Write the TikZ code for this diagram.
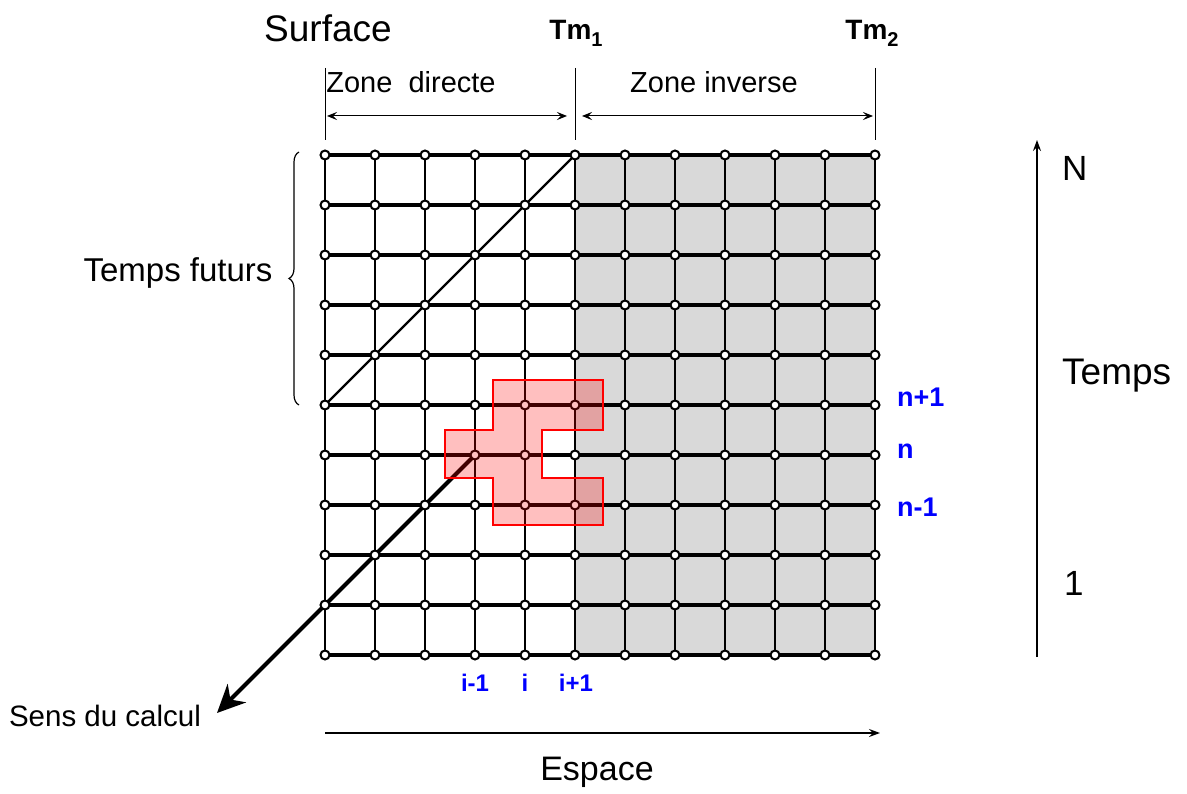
\documentclass[tikz,border=0pt]{standalone}
\usepackage{fontspec}
\setmainfont{Liberation Sans}
\usetikzlibrary{arrows.meta,decorations.pathreplacing}
\definecolor{zonegray}{RGB}{217,217,217}
\definecolor{idxblue}{RGB}{0,0,255}
\definecolor{stencil}{RGB}{255,0,0}
\newcommand{\tmsub}[1]{Tm\raisebox{-7pt}{\fontsize{20}{20}\selectfont #1}}

\begin{document}
\begin{tikzpicture}[x=1pt,y=-1pt,
    gridpt/.style={circle, draw=black, fill=white, line width=2pt,
                   minimum size=9pt, inner sep=0pt},
    hline/.style={line width=4pt},
    vline/.style={line width=2.2pt},
    axis/.style={line width=1.2pt, -{Stealth[length=11pt,width=8pt,inset=4pt]}},
    idx/.style={text=idxblue, inner sep=0pt, font=\bfseries\fontsize{24}{26}\selectfont},
    lvl/.style={text=idxblue, inner sep=0pt, anchor=west,
                font=\bfseries\fontsize{27}{29}\selectfont}]
  \useasboundingbox (0,0) rectangle (1187,794);

  % grid points
  \foreach \i in {0,...,11}
    \foreach \j in {0,...,10}
      \coordinate (g-\i-\j) at ({325+50*\i},{655-50*\j});

  \fill[zonegray] (g-5-0) rectangle (g-11-10);
  \foreach \j in {0,...,10} \draw[hline] (g-0-\j) -- (g-11-\j);
  \foreach \i in {0,...,11} \draw[vline] (g-\i-0) -- (g-\i-10);

  % future times / computing direction
  \draw[line width=2.2pt] (g-5-10) -- (g-0-5);
  \coordinate (sens) at (217,713);
  \draw[line width=4pt, -{Stealth[length=28pt,width=26pt,inset=9pt]}] (g-3-4) -- (sens);

  \foreach \i in {0,...,11}
    \foreach \j in {0,...,10}
      \node[gridpt] (n-\i-\j) at (g-\i-\j) {};

  % stencil
  \draw[stencil, line width=2pt, fill=stencil, fill opacity=0.25]
    (493,380) -- (603,380) -- (603,430) -- (542,430) -- (542,478) -- (603,478)
    -- (603,525) -- (493,525) -- (493,478) -- (445,478) -- (445,430) -- (493,430) -- cycle;

  % top
  \node (surf) at (328,28) {\fontsize{37}{40}\selectfont Surface};
  \node[font=\bfseries\fontsize{28}{30}\selectfont] (tm1) at (576,33) {\tmsub{1}};
  \node[font=\bfseries\fontsize{28}{30}\selectfont] (tm2) at (872,33) {\tmsub{2}};

  \coordinate (t0a) at (325,68);  \coordinate (t0b) at (325,140);
  \coordinate (t1a) at (575,68);  \coordinate (t1b) at (575,140);
  \coordinate (t2a) at (875,68);  \coordinate (t2b) at (875,140);
  \draw[line width=1pt] (t0a) -- (t0b) (t1a) -- (t1b) (t2a) -- (t2b);

  \coordinate (zd-l) at (327,116); \coordinate (zd-r) at (567,116);
  \coordinate (zi-l) at (582,116); \coordinate (zi-r) at (873,116);
  \draw[line width=1pt, {Stealth[length=10pt,width=8pt,inset=4pt]}-{Stealth[length=10pt,width=8pt,inset=4pt]}] (zd-l) -- (zd-r);
  \draw[line width=1pt, {Stealth[length=10pt,width=8pt,inset=4pt]}-{Stealth[length=10pt,width=8pt,inset=4pt]}] (zi-l) -- (zi-r);
  \node[font=\fontsize{29}{31}\selectfont] (zdir) at (411,82) {Zone~ directe};
  \node[font=\fontsize{29}{31}\selectfont] (zinv) at (714,82) {Zone inverse};

  % left
  \draw[line width=1.2pt, decorate, decoration={brace, amplitude=10pt}] (299,405) -- (299,152);
  \node[font=\fontsize{33}{35}\selectfont] (futur) at (178,273) {Temps futurs};
  \node[font=\fontsize{29.5}{31}\selectfont] (calc) at (105,716) {Sens du calcul};

  % indices
  \node[lvl] (np1) at (897,397) {n+1};
  \node[lvl] (n0) at (897,451) {n};
  \node[lvl] (nm1) at (897,507) {n-1};
  \node[idx] (im1) at (475,683) {i-1};
  \node[idx] (i0) at (525,683) {i};
  \node[idx] (ip1) at (576,683) {i+1};

  % axes
  \coordinate (tb) at (1037,657); \coordinate (tt) at (1037,140);
  \draw[axis] (tb) -- (tt);
  \node[anchor=west, inner sep=0pt, font=\fontsize{35}{37}\selectfont] (nmax) at (1062,168) {N};
  \node[anchor=west, inner sep=0pt, font=\fontsize{37}{39}\selectfont] (temps) at (1062,376) {Temps};
  \node[anchor=west, inner sep=0pt, font=\fontsize{35}{37}\selectfont] (one) at (1064,583) {1};

  \coordinate (ea) at (325,733); \coordinate (eb) at (880,733);
  \draw[axis] (ea) -- (eb);
  \node[font=\fontsize{34}{36}\selectfont] (esp) at (597,772) {Espace};
\end{tikzpicture}
\end{document}
